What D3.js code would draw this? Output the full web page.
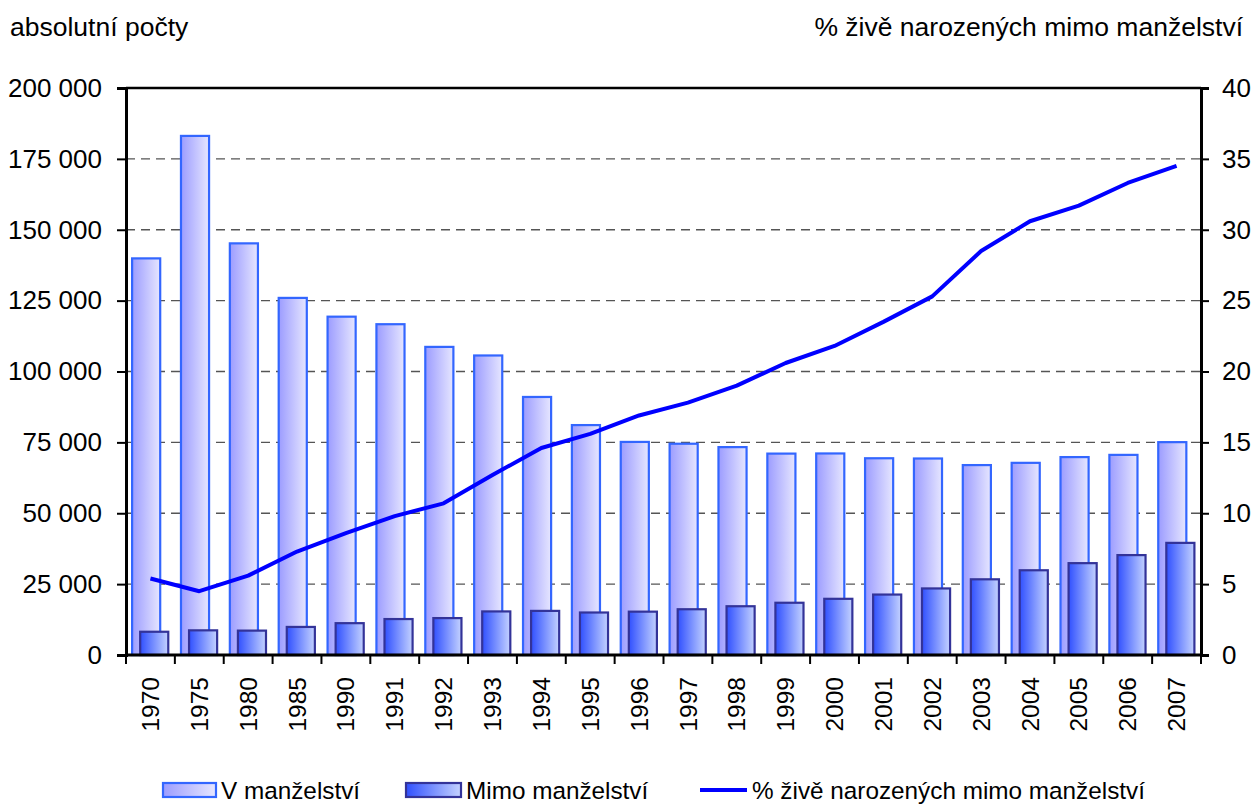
<!DOCTYPE html>
<html>
<head>
<meta charset="utf-8">
<script src="https://cdn.jsdelivr.net/npm/d3@7"></script>
<style>
  body { margin: 0; background: #fff; }
  svg { display: block; font-family: "Liberation Sans", Arial, sans-serif; }
</style>
</head>
<body>
<div id="chart"></div>
<script>
const years = ["1970", "1975", "1980", "1985", "1990", "1991", "1992", "1993", "1994", "1995", "1996",
  "1997", "1998", "1999", "2000", "2001", "2002", "2003", "2004", "2005", "2006", "2007"];
// live births within marriage
const inMarriage = [139900, 183100, 145200, 125960, 119340, 116680, 108680, 105650, 91020, 81100, 75160,
  74520, 73330, 71040, 71090, 69400, 69310, 66990, 67780, 69810, 70590, 75080];
// live births outside marriage
const outMarriage = [8200, 8700, 8600, 9900, 11230, 12680, 13020, 15370, 15560, 14990, 15290,
  16140, 17200, 18430, 19820, 21320, 23480, 26700, 29890, 32400, 35240, 39550];
// % of live births outside marriage
const pctOut = [5.4, 4.5, 5.6, 7.3, 8.6, 9.8, 10.7, 12.7, 14.6, 15.6, 16.9,
  17.8, 19.0, 20.6, 21.8, 23.5, 25.3, 28.5, 30.6, 31.7, 33.3, 34.5];
const leftTicks = [0, 25000, 50000, 75000, 100000, 125000, 150000, 175000, 200000];
const rightTicks = [0, 5, 10, 15, 20, 25, 30, 35, 40];

const W = 1252, H = 805;
const x0 = 126, x1 = 1201, yTop = 88, yBot = 655;

const svg = d3.select("#chart").append("svg")
  .attr("width", W).attr("height", H);

const defs = svg.append("defs");
const g1 = defs.append("linearGradient").attr("id", "gIn");
g1.append("stop").attr("offset", "0%").attr("stop-color", "#9c9cff");
g1.append("stop").attr("offset", "100%").attr("stop-color", "#e6e6ff");
const g2 = defs.append("linearGradient").attr("id", "gOut");
g2.append("stop").attr("offset", "0%").attr("stop-color", "#3050ff");
g2.append("stop").attr("offset", "100%").attr("stop-color", "#c4d2ff");

const x = d3.scaleBand().domain(years).range([x0, x1]);
const yL = d3.scaleLinear().domain([0, 200000]).range([yBot, yTop]);
const yR = d3.scaleLinear().domain([0, 40]).range([yBot, yTop]);

const fmt = d3.formatLocale({ decimal: ",", thousands: " ", grouping: [3], currency: ["", ""] }).format(",d");

// dashed grid
svg.append("g")
  .selectAll("line")
  .data(leftTicks.filter((d) => d > 0 && d < 200000))
  .join("line")
  .attr("x1", x0).attr("x2", x1)
  .attr("y1", (d) => yL(d)).attr("y2", (d) => yL(d))
  .attr("stroke", "#555")
  .attr("stroke-width", 1.3)
  .attr("stroke-dasharray", "9,6");

// top border
svg.append("line")
  .attr("x1", x0).attr("x2", x1)
  .attr("y1", yTop).attr("y2", yTop)
  .attr("stroke", "#000").attr("stroke-width", 2.5);

const bw = x.bandwidth();
const barW = bw * 0.575;

// bars within marriage
svg.append("g")
  .selectAll("rect")
  .data(years)
  .join("rect")
  .attr("x", (d) => x(d) + bw * 0.125)
  .attr("y", (d, i) => yL(inMarriage[i]))
  .attr("width", barW)
  .attr("height", (d, i) => yBot - yL(inMarriage[i]))
  .attr("fill", "url(#gIn)")
  .attr("stroke", "#3366ff")
  .attr("stroke-width", 2.2);

// bars outside marriage
svg.append("g")
  .selectAll("rect")
  .data(years)
  .join("rect")
  .attr("x", (d) => x(d) + bw * 0.29)
  .attr("y", (d, i) => yL(outMarriage[i]))
  .attr("width", barW)
  .attr("height", (d, i) => yBot - yL(outMarriage[i]))
  .attr("fill", "url(#gOut)")
  .attr("stroke", "#333399")
  .attr("stroke-width", 2.2);

// percent line
const line = d3.line()
  .x((d, i) => x(years[i]) + bw / 2)
  .y((d) => yR(d));
svg.append("path")
  .datum(pctOut)
  .attr("d", line)
  .attr("fill", "none")
  .attr("stroke", "#0000ff")
  .attr("stroke-width", 4)
  .attr("stroke-linejoin", "round");

// axes
const axL = svg.append("g")
  .attr("transform", `translate(${x0},0)`)
  .call(d3.axisLeft(yL).tickValues(leftTicks).tickFormat(fmt).tickSize(9).tickPadding(15));
const axR = svg.append("g")
  .attr("transform", `translate(${x1},0)`)
  .call(d3.axisRight(yR).tickValues(rightTicks).tickSize(8).tickPadding(13));
[axL, axR].forEach((a) => {
  a.select(".domain").attr("stroke", "#000").attr("stroke-width", 3);
  a.selectAll(".tick line").attr("stroke", "#000").attr("stroke-width", 2);
  a.selectAll("text").attr("font-size", 26).attr("fill", "#000")
    .attr("font-family", "Liberation Sans, Arial, sans-serif");
});

// bottom axis with ticks on band boundaries
const axB = svg.append("g")
  .attr("transform", `translate(0,${yBot})`);
axB.append("line")
  .attr("x1", x0).attr("x2", x1)
  .attr("stroke", "#000").attr("stroke-width", 3);
axB.selectAll("line.tk")
  .data(years.concat(["end"]))
  .join("line")
  .attr("class", "tk")
  .attr("x1", (d, i) => x0 + i * bw)
  .attr("x2", (d, i) => x0 + i * bw)
  .attr("y1", 0).attr("y2", 9)
  .attr("stroke", "#000").attr("stroke-width", 2);
axB.selectAll("text")
  .data(years)
  .join("text")
  .attr("transform", (d) => `translate(${x(d) + bw / 2},22) rotate(-90)`)
  .attr("text-anchor", "end")
  .attr("dy", "0.35em")
  .attr("font-size", 24.5)
  .text((d) => d);

// axis titles
svg.append("text")
  .attr("x", 10).attr("y", 36)
  .attr("font-size", 26.5)
  .text("absolutní počty");
svg.append("text")
  .attr("x", 1243).attr("y", 36)
  .attr("text-anchor", "end")
  .attr("font-size", 26.5)
  .text("% živě narozených mimo manželství");

// legend
const lg = svg.append("g");
lg.append("rect").attr("x", 163).attr("y", 783).attr("width", 53).attr("height", 14)
  .attr("fill", "url(#gIn)").attr("stroke", "#3366ff").attr("stroke-width", 2.2);
lg.append("text").attr("x", 221).attr("y", 790).attr("dy", "0.35em").attr("font-size", 24.3)
  .text("V manželství");
lg.append("rect").attr("x", 406).attr("y", 783).attr("width", 55).attr("height", 14)
  .attr("fill", "url(#gOut)").attr("stroke", "#333399").attr("stroke-width", 2.2);
lg.append("text").attr("x", 466).attr("y", 790).attr("dy", "0.35em").attr("font-size", 24.3)
  .text("Mimo manželství");
lg.append("line").attr("x1", 700).attr("x2", 747).attr("y1", 790).attr("y2", 790)
  .attr("stroke", "#0000ff").attr("stroke-width", 4);
lg.append("text").attr("x", 752).attr("y", 790).attr("dy", "0.35em").attr("font-size", 24.3)
  .text("% živě narozených mimo manželství");
</script>
</body>
</html>
